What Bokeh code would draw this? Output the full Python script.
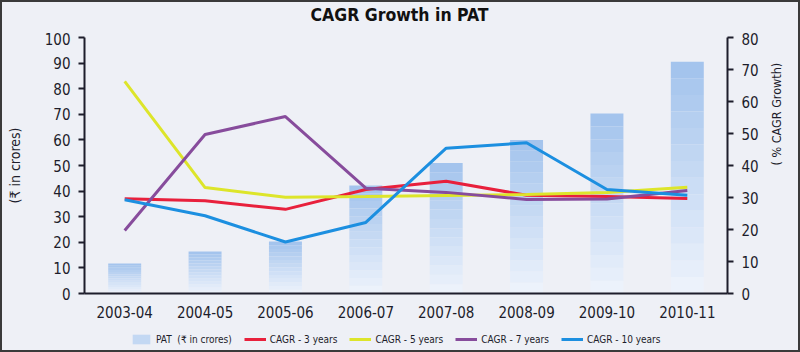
import math
from bokeh.plotting import figure
from bokeh.layouts import column
from bokeh.models import Range1d, LinearAxis, Legend, LegendItem, FixedTicker
from bokeh.embed import file_html
from bokeh.resources import INLINE

years = ["2003-04", "2004-05", "2005-06", "2006-07", "2007-08", "2008-09", "2009-10", "2010-11"]
pat = [11.7, 16.4, 20.3, 42.2, 51.0, 60.0, 70.3, 90.5]
cagr3 = [29.6, 29.0, 26.3, 32.5, 35.1, 30.7, 30.3, 29.7]
cagr5 = [66.3, 33.1, 30.1, 30.3, 30.6, 30.9, 31.6, 33.2]
cagr7 = [19.7, 49.7, 55.3, 32.9, 31.6, 29.4, 29.5, 32.2]
cagr10 = [29.3, 24.3, 16.1, 22.2, 45.4, 47.1, 32.5, 30.7]
left_ticks = [0, 10, 20, 30, 40, 50, 60, 70, 80, 90, 100]
right_ticks = [0, 10, 20, 30, 40, 50, 60, 70, 80]

FONT = "DejaVu Sans Condensed"
AXC = "#1d1d2b"
BG = "#eef0f6"
C3, C5, C7, C10 = "#e8203c", "#dde52a", "#874c9c", "#1c8fe0"

# title strip
t = figure(width=796, height=30, x_range=Range1d(0, 1), y_range=Range1d(0, 1),
           output_backend="svg", toolbar_location=None,
           x_axis_location=None, y_axis_location=None,
           min_border_left=0, min_border_right=0, min_border_top=0, min_border_bottom=0,
           background_fill_color=BG, border_fill_color=BG)
t.grid.visible = False
t.outline_line_color = None
t.title.text = "CAGR Growth in PAT"
t.title.align = "left"
t.title.offset = 226
t.title.vertical_align = "top"
t.title.text_font = FONT
t.title.text_font_size = "17.5px"
t.title.text_font_style = "bold"
t.title.text_color = "#111111"
t.title.standoff = 4

p = figure(width=796, height=291, x_range=years, y_range=Range1d(0, 100),
           output_backend="svg", toolbar_location=None, title_location=None,
           min_border_left=82, min_border_right=71, min_border_top=5, min_border_bottom=30,
           background_fill_color=BG, border_fill_color=BG)
p.extra_y_ranges = {"cagr": Range1d(0, 80)}
p.outline_line_color = None
p.grid.visible = False

# gradient bars built from the PAT values
N = 14
c_top = (164, 196, 237)
c_bot = (236, 242, 251)
bar_renderers = []
for i in range(N):
    f = i / (N - 1)
    col = "#%02x%02x%02x" % tuple(int(round(c_bot[k] + (c_top[k] - c_bot[k]) * f)) for k in range(3))
    r = p.vbar(x=years, bottom=[v * i / N for v in pat], top=[v * (i + 1) / N for v in pat],
               width=0.41, fill_color=col, line_color=None)
    bar_renderers.append(r)

lw = 3
p.line(years, cagr3, y_range_name="cagr", line_color=C3, line_width=lw)
p.line(years, cagr5, y_range_name="cagr", line_color=C5, line_width=lw)
p.line(years, cagr7, y_range_name="cagr", line_color=C7, line_width=lw)
p.line(years, cagr10, y_range_name="cagr", line_color=C10, line_width=lw)

def style_axis(ax):
    ax.axis_line_color = AXC
    ax.axis_line_width = 2
    ax.major_tick_line_color = AXC
    ax.major_tick_line_width = 2
    ax.major_tick_in = 0
    ax.major_tick_out = 6
    ax.minor_tick_line_color = None
    ax.major_label_text_font = FONT
    ax.major_label_text_font_size = "15px"
    ax.major_label_text_color = AXC
    ax.axis_label_text_font = FONT
    ax.axis_label_text_font_style = "normal"
    ax.axis_label_text_color = AXC

ly = p.yaxis[0]
ly.ticker = FixedTicker(ticks=left_ticks)
style_axis(ly)
ly.axis_label = "(\u20b9 in crores)"
ly.axis_label_text_font_size = "14px"
ly.major_label_standoff = 8
ly.axis_label_standoff = 19

ry = LinearAxis(y_range_name="cagr", ticker=FixedTicker(ticks=right_ticks))
style_axis(ry)
ry.axis_label = "( % CAGR Growth)"
ry.axis_label_text_font_size = "12.5px"
ry.axis_label_orientation = math.pi / 2
ry.major_label_standoff = 8
ry.axis_label_standoff = 15
p.add_layout(ry, "right")

xa = p.xaxis[0]
style_axis(xa)
xa.major_tick_line_color = None
xa.major_tick_out = 0
xa.major_label_standoff = 12

# legend strip below the chart; its renderers use the same data but lie outside its view
q = figure(width=796, height=27, x_range=years, y_range=Range1d(1000, 1001),
           output_backend="svg", toolbar_location=None,
           x_axis_location=None, y_axis_location=None,
           min_border_left=0, min_border_right=0, min_border_top=0, min_border_bottom=0,
           background_fill_color=BG, border_fill_color=BG)
q.grid.visible = False
q.outline_line_color = None
g_pat = q.vbar(x=years, top=pat, width=0.41, fill_color="#c3d8f3", line_color=None)
g3 = q.line(years, cagr3, line_color=C3, line_width=3)
g5 = q.line(years, cagr5, line_color=C5, line_width=3)
g7 = q.line(years, cagr7, line_color=C7, line_width=3)
g10 = q.line(years, cagr10, line_color=C10, line_width=3)

legend = Legend(items=[
    LegendItem(label="PAT  (\u20b9 in crores)", renderers=[g_pat]),
    LegendItem(label="CAGR - 3 years", renderers=[g3]),
    LegendItem(label="CAGR - 5 years", renderers=[g5]),
    LegendItem(label="CAGR - 7 years", renderers=[g7]),
    LegendItem(label="CAGR - 10 years", renderers=[g10]),
], orientation="horizontal", location=(46, 5))
legend.label_text_font = FONT
legend.label_text_font_size = "10px"
legend.label_text_color = AXC
legend.glyph_width = 22
legend.glyph_height = 12
legend.spacing = 12
legend.label_standoff = 4
legend.padding = 2
legend.margin = 0
legend.label_height = 12
legend.background_fill_alpha = 0
legend.border_line_color = None
q.add_layout(legend, "center")

layout = column(t, p, q, spacing=0)
layout.styles = {"border": "2px solid #3a3a3a", "background-color": BG}

open("out.html", "w").write(file_html(layout, INLINE))
